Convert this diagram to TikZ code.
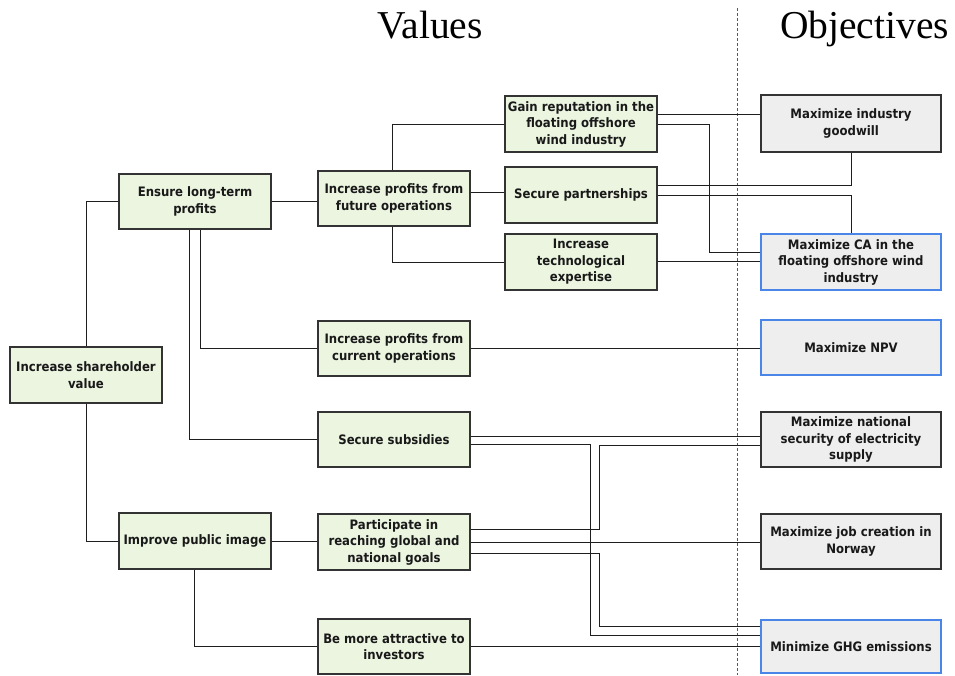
\documentclass[tikz,border=0pt]{standalone}
\usepackage{fontspec}
\newfontfamily\titlefont{Liberation Serif}
\newfontfamily\boxfont{DejaVu Sans Condensed}
\definecolor{greenc}{RGB}{235,245,224}
\definecolor{grayc}{RGB}{238,238,238}
\definecolor{bluec}{RGB}{74,134,232}
\definecolor{bordc}{RGB}{51,51,51}
\definecolor{linec}{RGB}{30,30,30}
\definecolor{textc}{RGB}{25,25,25}
\tikzset{
  basebox/.style={draw=bordc, line width=1.2pt, align=center, inner sep=0pt,
    text=textc, font=\boxfont\bfseries\fontsize{13}{16.5}\selectfont},
  vbox/.style={basebox, fill=greenc, minimum width=152pt, minimum height=55pt},
  obox/.style={basebox, fill=grayc, minimum width=180pt, minimum height=56pt},
  keybox/.style={obox, draw=bluec, line width=2.6pt},
  conn/.style={draw=linec, line width=0.9pt},
  title/.style={font=\titlefont\fontsize{39.5}{44}\selectfont, anchor=base, inner sep=0pt, text=black}
}
\begin{document}
\begin{tikzpicture}[x=1pt,y=-1pt]
\useasboundingbox (0,0) rectangle (955,675);
\fill[white] (0,0) rectangle (955,675);

\node[title] (tv) at (430,38) {Values};
\node[title] (to) at (864.5,38) {Objectives};

\coordinate (dtop) at (737,8);
\coordinate (dbot) at (737,675);
\draw[gray!70!black, line width=0.8pt, dash pattern=on 3pt off 2pt] (dtop) -- (dbot);

% value nodes
\node[vbox, minimum height=56pt] (sh) at (86,375) {Increase shareholder\\value};
\node[vbox] (elt) at (195,201.5) {Ensure long-term\\profits};
\node[vbox] (fut) at (394,198.5) {Increase profits from\\future operations};
\node[vbox, minimum height=56pt] (gain) at (581,124) {Gain reputation in the\\floating offshore\\wind industry};
\node[vbox, minimum height=56pt] (part) at (581,195) {Secure partnerships};
\node[vbox, minimum height=56pt] (tech) at (581,262) {Increase\\technological\\expertise};
\node[vbox] (cur) at (394,348.5) {Increase profits from\\current operations};
\node[vbox] (subs) at (394,439.5) {Secure subsidies};
\node[vbox, minimum height=56pt] (imp) at (195,541) {Improve public image};
\node[vbox, minimum height=56pt] (parti) at (394,542) {Participate in\\reaching global and\\national goals};
\node[vbox] (attr) at (394,646.5) {Be more attractive to\\investors};

% objective nodes
\node[obox, minimum height=57pt] (good) at (851,123.5) {Maximize industry\\goodwill};
\node[keybox] (ca) at (851,262) {Maximize CA in the\\floating offshore wind\\industry};
\node[keybox, minimum height=55pt] (npv) at (851,347.5) {Maximize NPV};
\node[obox, minimum height=55pt] (sec) at (851,439.5) {Maximize national\\security of electricity\\supply};
\node[obox, minimum height=55pt] (job) at (851,541.5) {Maximize job creation in\\Norway};
\node[keybox, minimum height=53pt] (ghg) at (851,646.5) {Minimize GHG emissions};

% connectors
\draw[conn] (sh.north) |- (elt.west);
\draw[conn] (sh.south) |- (imp.west);
\draw[conn] (elt.east) -- (elt.east -| fut.west);
\draw[conn] ([xshift=5pt]elt.south) |- (cur.west);
\draw[conn] ([xshift=-6pt]elt.south) |- (subs.west);
\draw[conn] ([xshift=-2pt]fut.north) |- (gain.west);
\draw[conn] ([yshift=6.5pt]fut.east) -- ([yshift=6.5pt]fut.east -| part.west);
\draw[conn] ([xshift=-2pt]fut.south) |- (tech.west);
\draw[conn] ([yshift=10pt]gain.east) -- ([yshift=10pt]gain.east -| good.west);
\draw[conn] (gain.east) -- ++(52,0) |- ([yshift=10pt]ca.west);
\draw[conn] ([yshift=10pt]part.east) -| (good.south);
\draw[conn] (part.east) -| (ca.north);
\draw[conn] ([yshift=1pt]tech.east) -- ([yshift=1pt]tech.east -| ca.west);
\draw[conn] (cur.east) -- (cur.east -| npv.west);
\draw[conn] ([yshift=3pt]subs.east) -- ([yshift=3pt]subs.east -| sec.west);
\draw[conn] ([yshift=-4.5pt]subs.east) -- ++(120,0) |- ([yshift=11.5pt]ghg.west);
\draw[conn] ([yshift=13pt]parti.east) -- ++(129,0) |- ([yshift=-5.5pt]sec.west);
\draw[conn] (parti.east) -- (parti.east -| job.west);
\draw[conn] ([yshift=-11pt]parti.east) -- ++(129,0) |- ([yshift=20.5pt]ghg.west);
\draw[conn] (attr.east) -- (attr.east -| ghg.west);
\draw[conn] (imp.east) -- (imp.east -| parti.west);
\draw[conn] ([xshift=-1pt]imp.south) |- (attr.west);
\end{tikzpicture}
\end{document}
